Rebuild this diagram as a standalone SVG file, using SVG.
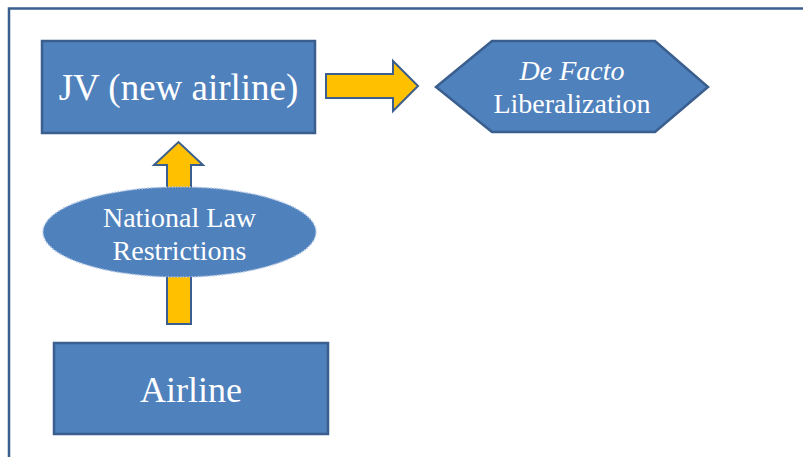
<svg xmlns="http://www.w3.org/2000/svg" width="803" height="457" viewBox="0 0 803 457">
  <style>
    .box { fill: #4F81BD; stroke: #3A5F8E; stroke-width: 2.5; }
    .arrow { fill: #FFC000; stroke: #3A5F8E; stroke-width: 2; stroke-linejoin: miter; }
    .label { font-family: "Liberation Serif", "Times New Roman", serif; fill: #FFFFFF; text-anchor: middle; }
    .frame { fill: none; stroke: #3A5F8E; stroke-width: 2.5; }
  </style>

  <rect width="803" height="457" fill="#FFFFFF"/>
  <!-- outer frame: top and left edges -->
  <path class="frame" d="M9,457 V8.5 H803"/>

  <g id="connectors">
    <!-- JV to De Facto Liberalization -->
    <path class="arrow" d="M326,74 H393 V61 L418,86 L393,111 V98 H326 Z"/>
    <!-- Airline up to JV -->
    <path class="arrow" d="M167,324 V165 H154 L178.5,142 L203,165 H191 V324 Z"/>
  </g>

  <g id="jv">
    <rect class="box" x="42" y="41" width="273" height="92"/>
    <text class="label" x="178.5" y="100" font-size="37">JV (new airline)</text>
  </g>

  <g id="liberalization">
    <polygon class="box" points="436,87 492,41 655,41 708,87 655,132 492,132"/>
    <text class="label" x="572" y="80" font-size="28" font-style="italic">De Facto</text>
    <text class="label" x="572" y="113" font-size="28">Liberalization</text>
  </g>

  <g id="restrictions">
    <ellipse cx="179.5" cy="232" rx="136.5" ry="45" fill="#4F81BD" stroke="#A9C0E0" stroke-width="1.5" stroke-dasharray="1.5 1.5"/>
    <text class="label" x="179.5" y="227" font-size="28">National Law</text>
    <text class="label" x="179.5" y="260" font-size="28">Restrictions</text>
  </g>

  <g id="airline">
    <rect class="box" x="54" y="343" width="274" height="91"/>
    <text class="label" x="191" y="402" font-size="36">Airline</text>
  </g>
</svg>
